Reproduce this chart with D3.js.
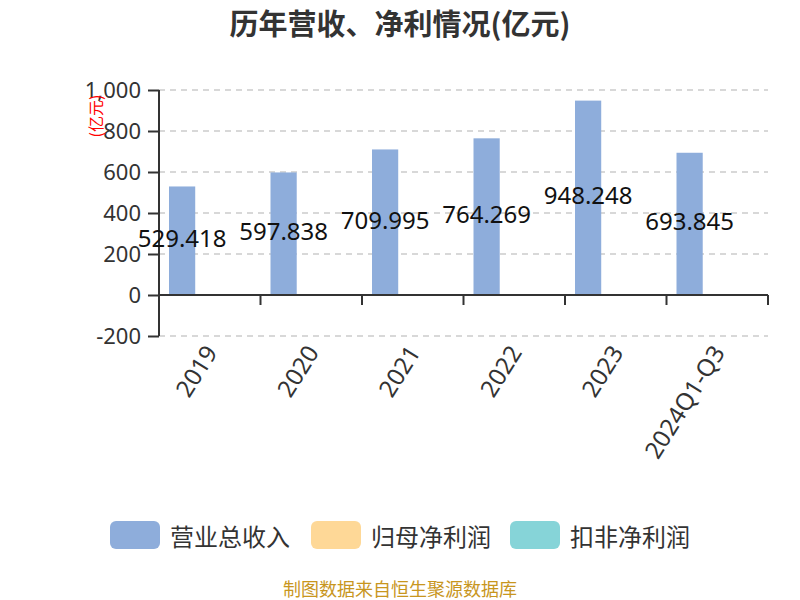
<!DOCTYPE html>
<html><head><meta charset="utf-8">
<script src="https://cdn.jsdelivr.net/npm/d3@7/dist/d3.min.js"></script>
<style>body{margin:0;background:#fff;font-family:"Noto Sans CJK SC","Noto Sans",sans-serif;}</style>
</head><body>
<svg id="c" width="800" height="600"></svg>
<script>
const categories = ["2019","2020","2021","2022","2023","2024Q1-Q3"];
const seriesNames = ["营业总收入","归母净利润","扣非净利润"];
const revenue = [529.418, 597.838, 709.995, 764.269, 948.248, 693.845];
const netProfit = [1.2, 2.5, 2.8, 2.2, 1.8, 1.0];
const deductedProfit = [2.0, 1.2, 2.6, 2.4, 1.0, 1.5];
const yTicks = [-200, 0, 200, 400, 600, 800, 1000];
const colors = ["#8eaddb", "#fed897", "#86d4d8"];

(function(){
const svg = d3.select("#c");
const pLeft = 159, pRight = 768, pTop = 90, pBottom = 336;
const x = d3.scaleBand().domain(categories).range([pLeft, pRight]);
const x1 = d3.scaleBand().domain(seriesNames).range([10, x.bandwidth() - 7]).paddingInner(0.1);
const y = d3.scaleLinear().domain([-200, 1000]).range([pBottom, pTop]);
const numFont = "'Noto Sans','Noto Sans CJK SC',sans-serif";
const fmt = d => d3.format(",")(d).replace("−", "-");

svg.append("text").attr("x", 400).attr("y", 35).attr("text-anchor", "middle")
  .attr("font-size", 29).attr("font-weight", "bold").attr("fill", "#333").text("历年营收、净利情况(亿元)");

svg.append("g").selectAll("line").data(yTicks).join("line")
  .attr("x1", pLeft).attr("x2", pRight).attr("y1", d => y(d)).attr("y2", d => y(d))
  .attr("stroke", "#ccc").attr("stroke-width", 1.5).attr("stroke-dasharray", "6,5");

const yAxis = svg.append("g").attr("transform", `translate(${pLeft},0)`)
  .call(d3.axisLeft(y).tickValues(yTicks).tickSize(11).tickPadding(7).tickFormat(fmt));
yAxis.select(".domain").attr("stroke", "#333").attr("stroke-width", 2).attr("d", `M0,${y(1000)}V${y(-200)}`);
yAxis.selectAll(".tick line").attr("stroke", "#333").attr("stroke-width", 2);
yAxis.selectAll(".tick text").attr("font-size", 22).attr("fill", "#333").attr("font-family", numFont);

svg.append("text").attr("transform", `translate(102,116) rotate(-90)`).attr("text-anchor", "middle")
  .attr("font-size", 16).attr("fill", "#f00").text("(亿元)");

const data = categories.map((c, i) => ({c, vals: [revenue[i], netProfit[i], deductedProfit[i]]}));
const g = svg.append("g");
data.forEach(d => {
  d.vals.forEach((v, j) => {
    g.append("rect").attr("x", x(d.c) + x1(seriesNames[j])).attr("width", x1.bandwidth())
      .attr("y", y(Math.max(0, v))).attr("height", Math.abs(y(v) - y(0))).attr("fill", colors[j]);
  });
});

const xAxis = svg.append("g").attr("transform", `translate(0,${y(0)})`)
  .call(d3.axisBottom(x).tickSize(0).tickPadding(0));
xAxis.select(".domain").attr("stroke", "#333").attr("stroke-width", 2).attr("d", `M${pLeft},0H${pRight}`);
xAxis.selectAll(".tick text").remove();
svg.append("g").selectAll("line").data(d3.range(categories.length + 1)).join("line")
  .attr("x1", i => pLeft + i * x.step()).attr("x2", i => pLeft + i * x.step())
  .attr("y1", y(0)).attr("y2", y(0) + 10).attr("stroke", "#333").attr("stroke-width", 2);
svg.append("g").selectAll("text").data(categories).join("text")
  .attr("transform", d => `translate(${x(d) + x.bandwidth() / 2 + 3},${y(-200) + 13}) rotate(-58)`)
  .attr("text-anchor", "end").attr("dominant-baseline", "middle")
  .attr("font-size", 24).attr("fill", "#333").attr("font-family", numFont).text(d => d);

svg.append("g").selectAll("text").data(data).join("text")
  .attr("x", d => x(d.c) + x1(seriesNames[0]) + x1.bandwidth() / 2)
  .attr("y", d => (y(d.vals[0]) + y(0)) / 2)
  .attr("text-anchor", "middle").attr("dominant-baseline", "middle")
  .attr("font-size", 24).attr("fill", "#111").attr("font-family", numFont)
  .text(d => d3.format(".3f")(d.vals[0]));

const legendX = [110, 311, 510];
const lg = svg.append("g").selectAll("g").data(seriesNames).join("g")
  .attr("transform", (d, i) => `translate(${legendX[i]},521)`);
lg.append("rect").attr("width", 50).attr("height", 28).attr("rx", 6).attr("fill", (d, i) => colors[i]);
lg.append("text").attr("x", 60).attr("y", 14).attr("dominant-baseline", "central")
  .attr("font-size", 24).attr("fill", "#333").text(d => d);

svg.append("text").attr("x", 400).attr("y", 596).attr("text-anchor", "middle")
  .attr("font-size", 18).attr("fill", "#c8961e").text("制图数据来自恒生聚源数据库");
})();
</script>
</body></html>
